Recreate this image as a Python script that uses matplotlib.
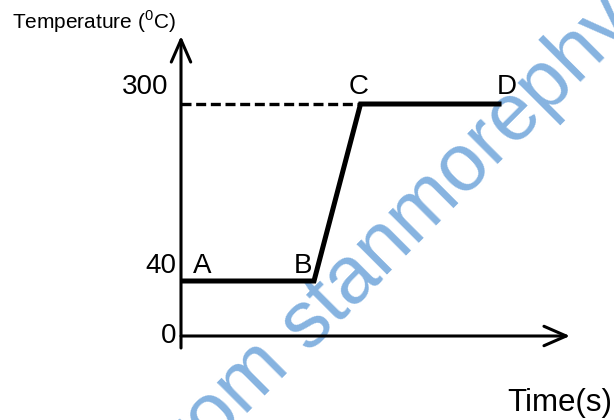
import numpy as np
import matplotlib.pyplot as plt

plt.rcParams['font.family'] = ['Liberation Sans', 'DejaVu Sans']
plt.rcParams['mathtext.fontset'] = 'custom'
plt.rcParams['mathtext.rm'] = 'Liberation Sans'

# Дані (схематичний графік)
time = [0, 10, 13.5, 24.1]
temp = [40, 40, 300, 300]
points = ['A', 'B', 'C', 'D']
tick_vals = [0, 40, 300]
tick_labels = ['0', '40', '300']

# Нелінійна шкала: графік не в масштабі
t_ref = [0, 40, 300, 400]
t_pos = [0, 55, 232, 300]


def fwd(y):
    return np.interp(y, t_ref, t_pos)


def inv(y):
    return np.interp(y, t_pos, t_ref)


fig = plt.figure(figsize=(6.14, 4.2), dpi=100)
ax = fig.add_axes([181 / 614, 84 / 420, 389 / 614, 300 / 420])
ax.set_yscale('function', functions=(fwd, inv))
ax.set_xlim(0, 29.25)
ax.set_ylim(0, 400)
ax.axis('off')

# Осі зі стрілками
arrow = dict(arrowstyle='->,head_length=0.8,head_width=0.35', lw=2.2,
             color='black', mutation_scale=20, shrinkA=0, shrinkB=0)
ax.annotate('', xy=(0, 1), xytext=(0, -0.04), xycoords='axes fraction',
            arrowprops=arrow, annotation_clip=False)
ax.annotate('', xy=(1, 0), xytext=(0, 0), xycoords='axes fraction',
            arrowprops=arrow, annotation_clip=False)

# Пунктир до 300
ax.plot([0, time[2]], [temp[2], temp[2]], color='black', lw=2.4,
        dashes=(3, 1.4), clip_on=False)

# Крива нагрівання
ax.plot(time, temp, color='black', lw=3.6, solid_joinstyle='miter',
        solid_capstyle='butt', clip_on=False)

# Підписи осі температури
tick_off = [(-3.6, 0), (-3.6, 11), (-9.4, 12)]
for v, lab, off in zip(tick_vals, tick_labels, tick_off):
    ax.annotate(lab, xy=(0, v), xytext=off, textcoords='offset points',
                ha='right', va='center', fontsize=20, annotation_clip=False)

# Підписи точок
pt_off = [(15, 11), (-8, 11), (-1.5, 12), (3.6, 12)]
for x, y, lab, off in zip(time, temp, points, pt_off):
    ax.annotate(lab, xy=(x, y), xytext=off, textcoords='offset points',
                ha='center', va='center', fontsize=20, annotation_clip=False)

fig.text(12 / 614, 1 - 22 / 420, 'Temperature ($^{0}$C)', ha='left',
         va='center', fontsize=15)
fig.text(612 / 614, 1 - 403 / 420, 'Time(s)', ha='right', va='center',
         fontsize=22.5)

# Водяний знак (під лініями)
wm = '#86b3e0'
fig.text(308 / 614, 1 - 352 / 420, 'stanmorephysics.com', rotation=45,
         rotation_mode='anchor', ha='left', va='baseline', fontsize=58,
         color=wm, zorder=-1)
fig.text(291 / 614, 1 - 369 / 420, 'Downloaded from', rotation=45,
         rotation_mode='anchor', ha='right', va='baseline', fontsize=58,
         color=wm, zorder=-1)

fig.savefig('out.png', dpi=100)
